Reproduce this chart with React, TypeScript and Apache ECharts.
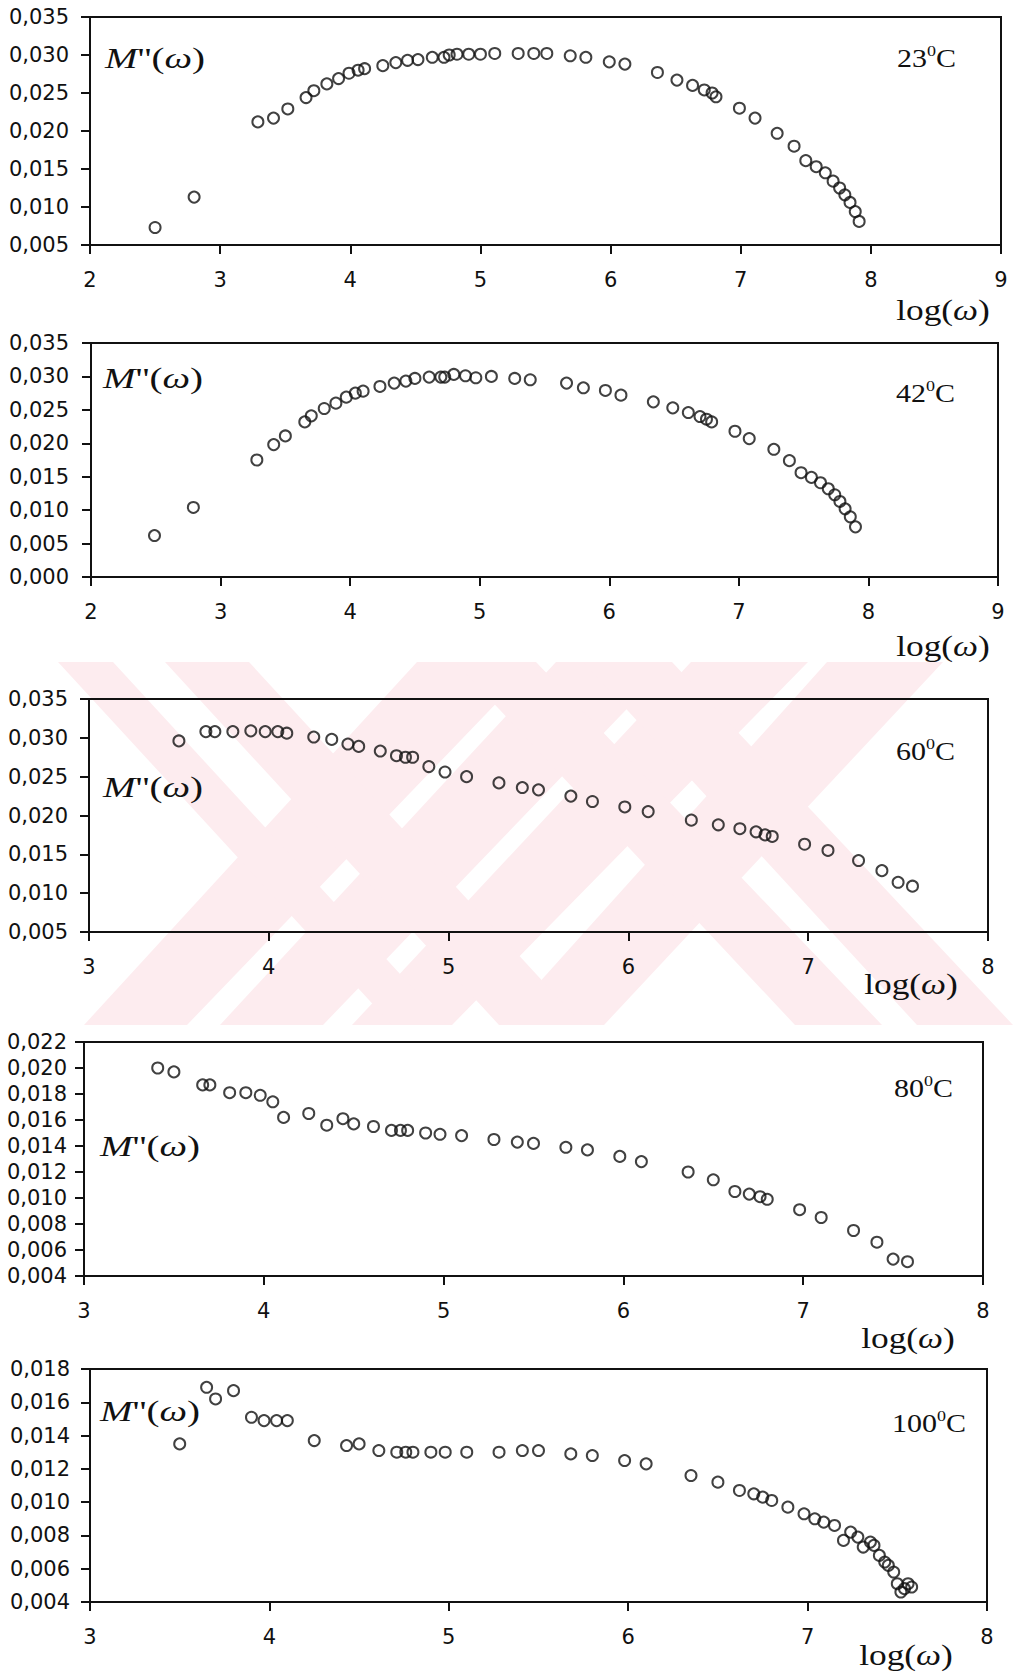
import React, { useEffect, useRef } from "react";
import * as echarts from "echarts";

// ---------- data ----------
const logW23 = [2.5, 2.8, 3.29, 3.41, 3.52, 3.66, 3.72, 3.82, 3.91, 3.99, 4.06, 4.11, 4.25, 4.35, 4.44, 4.52, 4.63, 4.72, 4.76, 4.82, 4.91, 5.0, 5.11, 5.29, 5.41, 5.51, 5.69, 5.81, 5.99, 6.11, 6.36, 6.51, 6.63, 6.72, 6.78, 6.81, 6.99, 7.11, 7.28, 7.41, 7.5, 7.58, 7.65, 7.71, 7.76, 7.8, 7.84, 7.88, 7.91];
const mpp23 = [0.0073, 0.0113, 0.0212, 0.0217, 0.0229, 0.0244, 0.0253, 0.0262, 0.0269, 0.0276, 0.028, 0.0282, 0.0286, 0.029, 0.0293, 0.0294, 0.0297, 0.0297, 0.03, 0.0301, 0.0301, 0.0301, 0.0302, 0.0302, 0.0302, 0.0302, 0.0299, 0.0297, 0.0291, 0.0288, 0.0277, 0.0267, 0.026, 0.0254, 0.025, 0.0245, 0.023, 0.0217, 0.0197, 0.018, 0.0161, 0.0153, 0.0145, 0.0134, 0.0125, 0.0116, 0.0106, 0.0094, 0.0081];

const logW42 = [2.49, 2.79, 3.28, 3.41, 3.5, 3.65, 3.7, 3.8, 3.89, 3.97, 4.04, 4.1, 4.23, 4.34, 4.43, 4.5, 4.61, 4.7, 4.73, 4.8, 4.89, 4.97, 5.09, 5.27, 5.39, 5.67, 5.8, 5.97, 6.09, 6.34, 6.49, 6.61, 6.7, 6.75, 6.79, 6.97, 7.08, 7.27, 7.39, 7.48, 7.56, 7.63, 7.69, 7.74, 7.78, 7.82, 7.86, 7.9];
const mpp42 = [0.0062, 0.0104, 0.0175, 0.0198, 0.0211, 0.0232, 0.0241, 0.0252, 0.026, 0.0269, 0.0275, 0.0278, 0.0285, 0.029, 0.0293, 0.0297, 0.0299, 0.0299, 0.0299, 0.0303, 0.0301, 0.0298, 0.03, 0.0297, 0.0295, 0.029, 0.0283, 0.0279, 0.0272, 0.0262, 0.0253, 0.0246, 0.024, 0.0236, 0.0232, 0.0218, 0.0207, 0.0191, 0.0174, 0.0156, 0.0149, 0.0141, 0.0132, 0.0123, 0.0113, 0.0102, 0.009, 0.0075];

const logW60 = [3.5, 3.65, 3.7, 3.8, 3.9, 3.98, 4.05, 4.1, 4.25, 4.35, 4.44, 4.5, 4.62, 4.71, 4.76, 4.8, 4.89, 4.98, 5.1, 5.28, 5.41, 5.5, 5.68, 5.8, 5.98, 6.11, 6.35, 6.5, 6.62, 6.71, 6.76, 6.8, 6.98, 7.11, 7.28, 7.41, 7.5, 7.58];
const mpp60 = [0.0296, 0.0308, 0.0308, 0.0308, 0.0309, 0.0308, 0.0308, 0.0306, 0.0301, 0.0298, 0.0292, 0.0289, 0.0283, 0.0277, 0.0275, 0.0275, 0.0263, 0.0256, 0.025, 0.0242, 0.0236, 0.0233, 0.0225, 0.0218, 0.0211, 0.0205, 0.0194, 0.0188, 0.0183, 0.0179, 0.0175, 0.0173, 0.0163, 0.0155, 0.0142, 0.0129, 0.0114, 0.0109];

const logW80 = [3.41, 3.5, 3.66, 3.7, 3.81, 3.9, 3.98, 4.05, 4.11, 4.25, 4.35, 4.44, 4.5, 4.61, 4.71, 4.76, 4.8, 4.9, 4.98, 5.1, 5.28, 5.41, 5.5, 5.68, 5.8, 5.98, 6.1, 6.36, 6.5, 6.62, 6.7, 6.76, 6.8, 6.98, 7.1, 7.28, 7.41, 7.5, 7.58];
const mpp80 = [0.02, 0.0197, 0.0187, 0.0187, 0.0181, 0.0181, 0.0179, 0.0174, 0.0162, 0.0165, 0.0156, 0.0161, 0.0157, 0.0155, 0.0152, 0.0152, 0.0152, 0.015, 0.0149, 0.0148, 0.0145, 0.0143, 0.0142, 0.0139, 0.0137, 0.0132, 0.0128, 0.012, 0.0114, 0.0105, 0.0103, 0.0101, 0.0099, 0.0091, 0.0085, 0.0075, 0.0066, 0.0053, 0.0051];

const logW100 = [3.5, 3.65, 3.7, 3.8, 3.9, 3.97, 4.04, 4.1, 4.25, 4.43, 4.5, 4.61, 4.71, 4.76, 4.8, 4.9, 4.98, 5.1, 5.28, 5.41, 5.5, 5.68, 5.8, 5.98, 6.1, 6.35, 6.5, 6.62, 6.7, 6.75, 6.8, 6.89, 6.98, 7.04, 7.09, 7.15, 7.2, 7.24, 7.28, 7.31, 7.35, 7.37, 7.4, 7.43, 7.45, 7.48, 7.5, 7.52, 7.54, 7.56, 7.58];
const mpp100 = [0.0135, 0.0169, 0.0162, 0.0167, 0.0151, 0.0149, 0.0149, 0.0149, 0.0137, 0.0134, 0.0135, 0.0131, 0.013, 0.013, 0.013, 0.013, 0.013, 0.013, 0.013, 0.0131, 0.0131, 0.0129, 0.0128, 0.0125, 0.0123, 0.0116, 0.0112, 0.0107, 0.0105, 0.0103, 0.0101, 0.0097, 0.0093, 0.009, 0.0088, 0.0086, 0.0077, 0.0082, 0.0079, 0.0073, 0.0076, 0.0074, 0.0068, 0.0064, 0.0062, 0.0058, 0.0051, 0.0046, 0.0048, 0.0051, 0.0049];

const temperatures = ["23", "42", "60", "80", "100"];
const xSeries = [logW23, logW42, logW60, logW80, logW100];
const ySeries = [mpp23, mpp42, mpp60, mpp80, mpp100];
const xMins = [2, 2, 3, 3, 3];
const xMaxs = [9, 9, 8, 8, 8];
const yMins = [0.005, 0, 0.005, 0.004, 0.004];
const yMaxs = [0.035, 0.035, 0.035, 0.022, 0.018];
const ySteps = [0.005, 0.005, 0.005, 0.002, 0.002];

// ---------- layout ----------
const grids = [
  { left: 90, top: 17, width: 911, height: 228 },
  { left: 91, top: 343, width: 907, height: 234 },
  { left: 89, top: 699, width: 899, height: 233 },
  { left: 84, top: 1042, width: 899, height: 234 },
  { left: 90, top: 1369, width: 897, height: 233 },
];
const yLabelMargins = [21, 22, 21, 17, 20];
const mLabelPos = [[105, 58], [103, 378], [103, 787], [100, 1146], [100, 1411]];
const tempPos = [[956, 58], [955, 393], [955, 751], [953, 1088], [966, 1423]];
const logPos = [[943, 310], [943, 646], [911, 984], [908, 1338], [906, 1655]];

// watermark bands: [topLeft, topRight, bottomLeft, bottomRight]
const wmTop = 662;
const wmBottom = 1025;
const wmBands = [
  [417, 536, 84, 187],
  [556, 672, 220, 323],
  [691, 808, 352, 452],
  [827, 943, 501, 604],
  [58, 113, 392, 447],
  [165, 249, 499, 583],
  [455, 536, 795, 882],
  [583, 672, 917, 1013],
];

const SERIF = "'Liberation Serif', 'Times New Roman', serif";
const SANS = "'DejaVu Sans', sans-serif";
const INK = "#111";

export default function App() {
  const ref = useRef<HTMLDivElement>(null);

  useEffect(() => {
    if (!ref.current) return;
    const chart = echarts.init(ref.current, undefined, { renderer: "svg" });

    const fmt = (v: number) => v.toFixed(3).replace(".", ",");

    const xAxis = grids.map((_, i) => ({
      type: "value",
      gridIndex: i,
      min: xMins[i],
      max: xMaxs[i],
      interval: 1,
      axisLine: { show: true, lineStyle: { color: INK, width: 2 } },
      axisTick: { show: true, inside: false, length: 9, lineStyle: { color: INK, width: 2 } },
      axisLabel: { color: INK, fontFamily: SANS, fontSize: 21, margin: 24 },
      splitLine: { show: false },
    }));

    const yAxis = grids.map((_, i) => ({
      type: "value",
      gridIndex: i,
      min: yMins[i],
      max: yMaxs[i],
      interval: ySteps[i],
      axisLine: { show: true, lineStyle: { color: INK, width: 2 } },
      axisTick: { show: true, inside: false, length: 9, lineStyle: { color: INK, width: 2 } },
      axisLabel: { color: INK, fontFamily: SANS, fontSize: 21, margin: yLabelMargins[i], formatter: fmt },
      splitLine: { show: false },
    }));

    const series = grids.map((_, i) => ({
      type: "scatter",
      xAxisIndex: i,
      yAxisIndex: i,
      symbol: "circle",
      symbolSize: 11,
      itemStyle: { color: "rgba(0,0,0,0)", borderColor: INK, borderWidth: 2 },
      data: xSeries[i].map((x, k) => [x, ySeries[i][k]]),
      z: 5,
    }));

    const watermark = wmBands.map((b) => ({
      type: "polygon",
      z: -10,
      silent: true,
      shape: {
        points: [
          [b[0], wmTop],
          [b[1], wmTop],
          [b[3], wmBottom],
          [b[2], wmBottom],
        ],
      },
      style: { fill: "#fdecef", stroke: "none" },
    }));

    const texts: any[] = [];
    for (let i = 0; i < 5; i++) {
      texts.push({
        type: "text",
        x: mLabelPos[i][0],
        y: mLabelPos[i][1],
        scaleX: 1.3,
        z: 10,
        style: {
          text: "{i|M}{n|''(}{i|ω}{n|)}",
          align: "left",
          textAlign: "left",
          verticalAlign: "middle",
          textVerticalAlign: "middle",
          fill: INK,
          rich: {
            i: { fontFamily: SERIF, fontSize: 30, fontStyle: "italic", fill: INK, color: INK },
            n: { fontFamily: SERIF, fontSize: 30, fill: INK, color: INK },
          },
        },
      });
      texts.push({
        type: "text",
        x: tempPos[i][0],
        y: tempPos[i][1],
        scaleX: 1.2,
        z: 10,
        style: {
          text: "{n|" + temperatures[i] + "}{s|0}{n|C}",
          align: "right",
          textAlign: "right",
          verticalAlign: "middle",
          textVerticalAlign: "middle",
          fill: INK,
          rich: {
            n: { fontFamily: SERIF, fontSize: 25, fill: INK, color: INK, lineHeight: 28 },
            s: { fontFamily: SERIF, fontSize: 15, fill: INK, color: INK, verticalAlign: "top", lineHeight: 28 },
          },
        },
      });
      texts.push({
        type: "text",
        x: logPos[i][0],
        y: logPos[i][1],
        scaleX: 1.22,
        z: 10,
        style: {
          text: "{n|log(}{i|ω}{n|)}",
          align: "center",
          textAlign: "center",
          verticalAlign: "middle",
          textVerticalAlign: "middle",
          fill: INK,
          rich: {
            i: { fontFamily: SERIF, fontSize: 29, fontStyle: "italic", fill: INK, color: INK },
            n: { fontFamily: SERIF, fontSize: 29, fill: INK, color: INK },
          },
        },
      });
    }

    chart.setOption({
      animation: false,
      backgroundColor: "#ffffff",
      grid: grids.map((g) => ({
        ...g,
        show: true,
        borderColor: INK,
        borderWidth: 2,
        backgroundColor: "rgba(0,0,0,0)",
        containLabel: false,
      })),
      xAxis,
      yAxis,
      series,
      graphic: [...watermark, ...texts],
    } as any);

    return () => chart.dispose();
  }, []);

  return (
    <div
      ref={ref}
      style={{ position: "absolute", left: 0, top: 0, width: 1013, height: 1677 }}
    />
  );
}
